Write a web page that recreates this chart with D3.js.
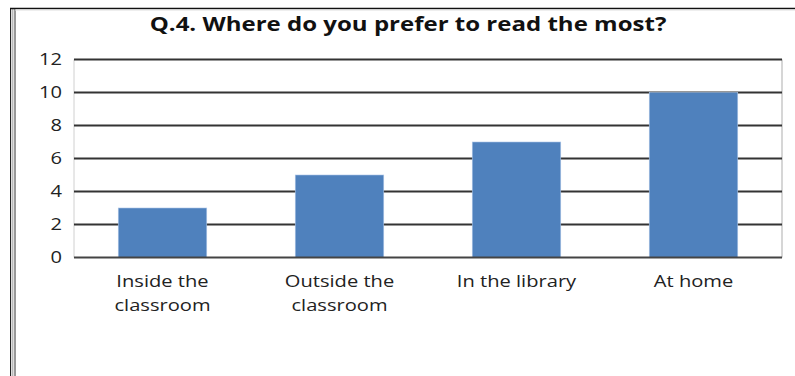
<!DOCTYPE html>
<html>
<head>
<meta charset="utf-8">
<script src="https://cdn.jsdelivr.net/npm/d3@7"></script>
<style>
  html, body { margin: 0; padding: 0; background: #fff; }
  svg { display: block; }
</style>
</head>
<body>
<svg id="chart" width="795" height="376"></svg>
<script>
// Survey answers: where students prefer to read
const categories = [["Inside the", "classroom"], ["Outside the", "classroom"], ["In the library"], ["At home"]];
const values = [3, 5, 7, 10];
const yTicks = [0, 2, 4, 6, 8, 10, 12];
const title = "Q.4. Where do you prefer to read the most?";

const svg = d3.select("#chart");
const W = 795, H = 376;
const plot = { left: 74, right: 782, top: 59.5, bottom: 257.5 };
const font = "'Open Sans', 'Noto Sans', sans-serif";
const stretch = 1.22; // text is set slightly wide

// Frame around the chart
svg.append("line").attr("x1", 10.5).attr("x2", 10.5).attr("y1", 8).attr("y2", H)
  .attr("stroke", "#222").attr("stroke-width", 1);
svg.append("line").attr("x1", 12.5).attr("x2", 12.5).attr("y1", 9).attr("y2", H)
  .attr("stroke", "#bbb").attr("stroke-width", 2);
svg.append("line").attr("x1", 15).attr("x2", 15).attr("y1", 9).attr("y2", H)
  .attr("stroke", "#333").attr("stroke-width", 1);
svg.append("line").attr("x1", 10).attr("x2", 795).attr("y1", 8.5).attr("y2", 8.5)
  .attr("stroke", "#111").attr("stroke-width", 1.5);
svg.append("line").attr("x1", 15).attr("x2", 795).attr("y1", 10).attr("y2", 10)
  .attr("stroke", "#ddd").attr("stroke-width", 1);

// Title
svg.append("text")
  .attr("transform", `translate(408,31) scale(${stretch * 1.01},1)`)
  .attr("text-anchor", "middle")
  .attr("font-family", font).attr("font-weight", "bold").attr("font-size", 19.5)
  .attr("fill", "#111")
  .text(title);

const x = d3.scaleBand()
  .domain(d3.range(categories.length))
  .range([plot.left, plot.right])
  .paddingInner(0.5).paddingOuter(0.25);

const y = d3.scaleLinear()
  .domain([0, 12])
  .range([plot.bottom, plot.top]);

// Plot area borders (light)
svg.append("line").attr("x1", plot.left).attr("x2", plot.left)
  .attr("y1", plot.top).attr("y2", plot.bottom).attr("stroke", "#d0d0d0").attr("stroke-width", 1);
svg.append("line").attr("x1", plot.right).attr("x2", plot.right)
  .attr("y1", plot.top).attr("y2", plot.bottom).attr("stroke", "#c8c8c8").attr("stroke-width", 1.5);

// Horizontal gridlines
svg.append("g").selectAll("line").data(yTicks.filter(t => t > 0)).join("line")
  .attr("x1", plot.left).attr("x2", plot.right)
  .attr("y1", d => y(d)).attr("y2", d => y(d))
  .attr("stroke", "#333").attr("stroke-width", 2);

// Bars
svg.append("g").selectAll("rect").data(values).join("rect")
  .attr("x", (d, i) => x(i))
  .attr("y", d => y(d))
  .attr("width", x.bandwidth())
  .attr("height", d => y(0) - y(d))
  .attr("fill", "#4f81bd")
  .attr("stroke", "#a9c4e6").attr("stroke-width", 0.6);

// Category axis line
svg.append("line").attr("x1", plot.left).attr("x2", plot.right)
  .attr("y1", y(0)).attr("y2", y(0)).attr("stroke", "#444").attr("stroke-width", 2);

// Value axis
const yAxis = d3.axisLeft(y).tickValues(yTicks).tickSize(0).tickPadding(12);
const gy = svg.append("g").attr("transform", `translate(${plot.left},0)`).call(yAxis);
gy.select(".domain").remove();
gy.attr("font-family", font).attr("font-size", 16.5);
gy.selectAll("text")
  .attr("x", 0)
  .attr("transform", `translate(-12,0) scale(${stretch},1)`)
  .attr("fill", "#222");

// Category labels
const xl = svg.append("g").selectAll("text").data(categories).join("text")
  .attr("text-anchor", "middle")
  .attr("font-family", font).attr("font-size", 16.5).attr("fill", "#222")
  .attr("transform", (d, i) => `translate(${x(i) + x.bandwidth() / 2},287) scale(${stretch},1)`);
xl.selectAll("tspan").data(d => d).join("tspan")
  .attr("x", 0).attr("dy", (d, i) => i === 0 ? 0 : 24)
  .text(d => d);
</script>
</body>
</html>
